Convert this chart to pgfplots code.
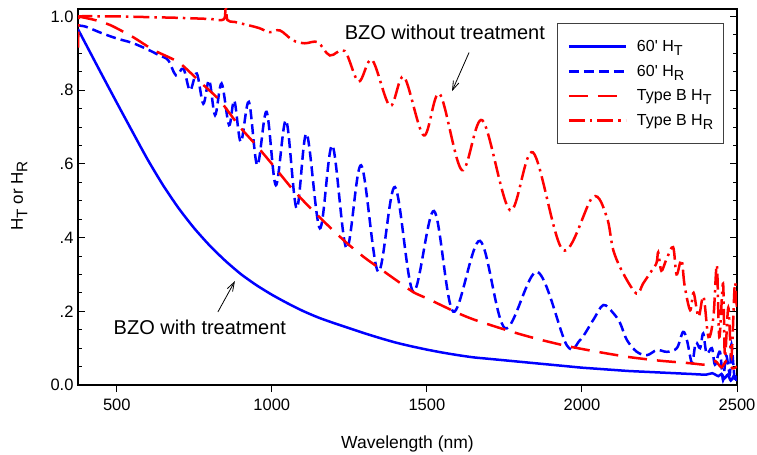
\documentclass[border=0pt]{standalone}
\usepackage{fontspec}
\setmainfont{Liberation Sans}
\usepackage{pgfplots}
\pgfplotsset{compat=1.18}
\usetikzlibrary{arrows.meta}

\definecolor{pblue}{RGB}{0,0,255}
\definecolor{pred}{RGB}{255,0,0}

% subscripts as drawn by the plotting program: nearly full size, dropped
\newcommand{\sbs}[1]{\raisebox{-0.5ex}{\scalebox{0.9}{#1}}}
% legend text cell of fixed width
\newcommand{\legtext}[1]{\makebox[82bp][l]{\hspace{8bp}#1}}

% 60' sample, total haze H_T
\pgfplotstableread{
x y
375 0.965
400 0.925
450 0.845
500 0.766
550 0.688
600 0.611
650 0.541
700 0.479
750 0.425
800 0.378
850 0.337
900 0.301
950 0.271
1000 0.245
1050 0.222
1100 0.201
1150 0.183
1200 0.168
1250 0.154
1300 0.140
1350 0.127
1400 0.115
1450 0.105
1500 0.096
1550 0.088
1600 0.081
1650 0.075
1700 0.071
1750 0.067
1800 0.063
1850 0.059
1900 0.055
1950 0.051
2000 0.047
2050 0.044
2100 0.041
2150 0.038
2200 0.036
2250 0.034
2300 0.032
2350 0.030
2400 0.028
2420 0.032
2440 0.024
2450 0.030
2460 0.018
2470 0.028
2480 0.012
2490 0.025
2500 0.020
}\tabHTsixty

% 60' sample, reflection haze H_R
\pgfplotstableread{
x y
375 0.975
400 0.972
450 0.955
500 0.940
550 0.928
600 0.910
640 0.893
666 0.881
691 0.840
715 0.858
736 0.799
758 0.845
779 0.763
798 0.827
817 0.732
838 0.818
862 0.705
879 0.772
900 0.659
926 0.768
953 0.596
983 0.741
1013 0.542
1046 0.718
1080 0.479
1112 0.682
1155 0.425
1195 0.650
1241 0.370
1288 0.596
1343 0.307
1397 0.537
1456 0.253
1523 0.472
1585 0.199
1671 0.391
1752 0.154
1856 0.307
1951 0.108
1994 0.122
2036 0.176
2069 0.217
2101 0.195
2123 0.168
2145 0.122
2177 0.090
2210 0.081
2242 0.095
2274 0.090
2306 0.100
2326 0.144
2339 0.120
2355 0.060
2367 0.115
2381 0.100
2391 0.140
2402 0.085
2419 0.100
2429 0.055
2445 0.090
2455 0.013
2465 0.080
2477 0.030
2482 0.110
2493 0.010
2500 0.020
}\tabHRsixty

% Type B sample, total haze H_T
\pgfplotstableread{
x y
375 1.000
430 0.990
480 0.976
550 0.945
620 0.908
700 0.875
770 0.821
832 0.772
897 0.700
950 0.650
1000 0.600
1068 0.530
1130 0.475
1187 0.428
1242 0.385
1300 0.345
1350 0.315
1400 0.285
1456 0.252
1500 0.235
1550 0.215
1600 0.195
1650 0.178
1726 0.157
1800 0.138
1870 0.122
1950 0.106
2050 0.090
2150 0.076
2250 0.066
2350 0.059
2400 0.055
2430 0.065
2450 0.048
2470 0.070
2485 0.045
2500 0.050
}\tabHTtypeB

% Type B sample, reflection haze H_R
\pgfplotstableread{
x y
375 0.915
378 0.990
385 1.000
450 1.000
500 1.000
600 0.998
700 0.996
800 0.993
845 0.992
851 1.030
857 0.990
880 0.985
929 0.975
960 0.968
993 0.957
1026 0.962
1068 0.935
1106 0.927
1148 0.930
1187 0.894
1235 0.906
1280 0.823
1323 0.882
1381 0.757
1426 0.836
1490 0.677
1541 0.790
1613 0.583
1679 0.718
1768 0.474
1842 0.631
1939 0.366
2035 0.510
2080 0.456
2101 0.366
2133 0.303
2176 0.248
2197 0.275
2219 0.303
2240 0.330
2246 0.360
2256 0.310
2272 0.340
2294 0.374
2305 0.300
2321 0.340
2331 0.270
2349 0.203
2360 0.250
2376 0.185
2392 0.240
2408 0.130
2424 0.185
2435 0.325
2443 0.130
2455 0.275
2461 0.077
2472 0.210
2482 0.077
2493 0.275
2500 0.200
}\tabHRtypeB

\begin{document}
\begin{tikzpicture}
\path[use as bounding box] (0bp,0bp) rectangle (757bp,455bp);
\begin{axis}[
  at={(78bp,70bp)}, anchor=south west,
  scale only axis, width=659bp, height=376bp,
  xmin=375, xmax=2500, ymin=0, ymax=1.02,
  xtick={500,1000,1500,2000,2500},
  ytick={0,0.2,0.4,0.6,0.8,1},
  yticklabels={0.0,.2,.4,.6,.8,1.0},
  minor y tick num=3,
  xtick pos=bottom, ytick pos=both,
  xtick align=outside, ytick align=inside,
  major tick length=7bp, minor tick length=4bp,
  axis line style={line width=1.3bp},
  every tick/.style={black, line width=0.9bp},
  /pgf/number format/assume math mode=true,
  /pgf/number format/1000 sep={},
  ticklabel style={font=\fontsize{16.5bp}{19bp}\selectfont},
  yticklabel style={xshift=-1bp},
  xticklabel style={yshift=-3bp},
  xlabel={Wavelength (nm)},
  xlabel style={at={(axis description cs:0.5,-0.1676)}, anchor=base,
    font=\fontsize{17.5bp}{20bp}\selectfont},
  ylabel={H\sbs{T} or H\sbs{R}},
  ylabel style={at={(axis description cs:-0.0835,0.503)}, anchor=base,
    font=\fontsize{17bp}{20bp}\selectfont},
  legend style={at={(axis description cs:0.727,0.963)}, anchor=north west,
    draw=black!75, line width=0.8bp,
    font=\fontsize{16bp}{19bp}\selectfont,
    inner xsep=10bp, inner ysep=15bp, row sep=8bp},
  legend cell align=left,
  legend image code/.code={\draw[#1] (0bp,0bp) -- (57bp,0bp);},
]
\addplot[pblue, line width=2.5bp, smooth, tension=0.4] table {\tabHTsixty};
\addlegendentry{\legtext{60\textquotesingle{} H\sbs{T}}}
\addplot[pblue, line width=2.5bp, dash pattern=on 10bp off 5bp, smooth, tension=0.55] table {\tabHRsixty};
\addlegendentry{\legtext{60\textquotesingle{} H\sbs{R}}}
\addplot[pred, line width=2.5bp, dash pattern=on 19bp off 10bp, smooth, tension=0.4] table {\tabHTtypeB};
\addlegendentry{\legtext{Type B H\sbs{T}}}
\addplot[pred, line width=2.5bp, dash pattern=on 16bp off 5bp on 2.5bp off 5bp, smooth, tension=0.55] table {\tabHRtypeB};
\addlegendentry{\legtext{Type B H\sbs{R}}}

\node[font=\fontsize{20bp}{23bp}\selectfont] at (axis cs:1558,0.957) {BZO without treatment};
\draw[line width=0.8bp, -{Straight Barb[length=9bp,width=6bp]}] (axis cs:1636,0.902) -- (axis cs:1581,0.797);
\node[font=\fontsize{20bp}{23bp}\selectfont] at (axis cs:768,0.157) {BZO with treatment};
\draw[line width=0.8bp, -{Straight Barb[length=9bp,width=6bp]}] (axis cs:826,0.198) -- (axis cs:881,0.282);
\end{axis}
\end{tikzpicture}
\end{document}
